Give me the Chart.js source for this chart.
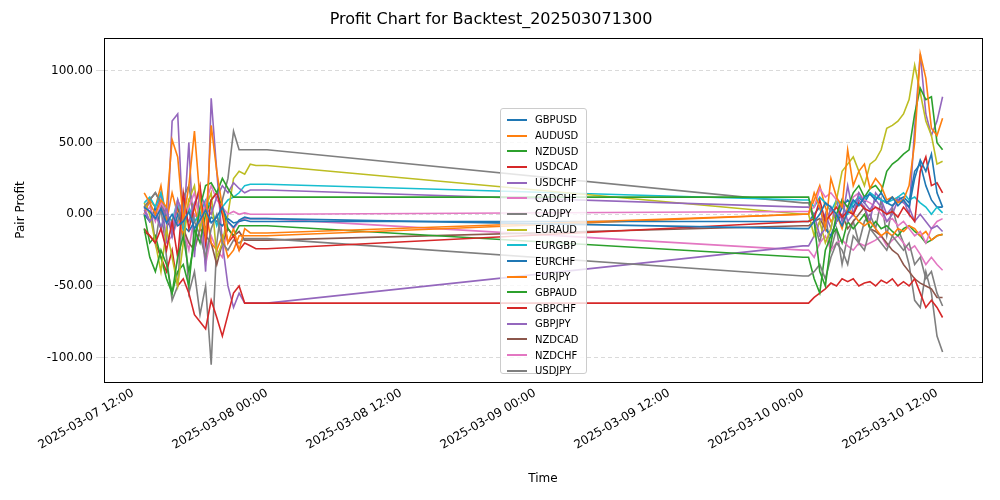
<!DOCTYPE html>
<html><head><meta charset="utf-8">
<script src="https://cdn.jsdelivr.net/npm/chart.js@4"></script>
<style>
body{margin:0;background:#fff;font-family:"DejaVu Sans";}
#wrap{position:relative;width:1000px;height:500px;}
#legend{position:absolute;left:500px;top:108px;width:87px;height:266px;background:rgba(255,255,255,0.8);border:1px solid #ccc;border-radius:3px;font:10px "DejaVu Sans";color:#000;box-sizing:border-box;padding-top:3px;}
.it{display:flex;align-items:center;height:15.7px;}
.sw{width:20px;height:2px;margin-left:6px;margin-right:8px;}
</style></head><body>
<div id="wrap"><canvas id="c" width="1000" height="500"></canvas><div id="legend"></div></div>
<script>
const t1=[13,13.5,14,14.5,15,15.5,16,16.5,17,17.5,18,18.5,19,19.5,20,20.5,21,21.5,22,22.5,23,23.5,24];
const t2=[72,72.5,73,73.5,74,74.5,75,75.5,76,76.5,77,77.5,78,78.5,79,79.5,80,80.5,81,81.5,82,82.5,83,83.5,84,84.5];
const names=["GBPUSD","AUDUSD","NZDUSD","USDCAD","USDCHF","CADCHF","CADJPY","EURAUD","EURGBP","EURCHF","EURJPY","GBPAUD","GBPCHF","GBPJPY","NZDCAD","NZDCHF","USDJPY"];
const colors=["#1f77b4","#ff7f0e","#2ca02c","#d62728","#9467bd","#e377c2","#7f7f7f","#bcbd22","#17becf","#1f77b4","#ff7f0e","#2ca02c","#d62728","#9467bd","#8c564b","#e377c2","#7f7f7f"];
const GBPUSD=[5,2,-3,4,-6,0,-8,-5,2,-10,-4,3,-6,-2,5,-5,-9,-4,-2,-3,-3,-3,-3, -10,-10,-5,0,8,5,0,-8,2,10,6,12,14,10,15,8,12,6,10,5,25,38,30,42,15,5];
const AUDUSD=[15,8,0,10,5,52,40,-5,20,58,10,-15,62,30,5,-20,-10,-25,-10,-13,-13,-13,-13, 0,0,15,5,-10,25,12,5,45,20,30,35,18,25,20,10,12,8,10,20,50,112,95,60,55,67];
const NZDUSD=[-10,-30,-40,-25,-35,-55,-30,-15,-40,-20,5,20,22,15,25,18,12,12,12,12,12,12,12, 12,12,-5,-40,-50,-20,0,10,5,15,20,12,18,20,15,30,35,38,42,45,70,88,80,82,50,45];
const USDCAD=[-10,-15,-20,-10,-25,-5,-30,15,-10,5,20,-20,10,15,0,-20,-15,-25,-20,-22,-24,-24,-24, -5,-5,-3,10,-5,0,5,-2,2,0,8,4,2,5,3,0,2,-2,5,0,-5,30,40,20,22,15];
const USDCHF=[3,-5,0,-10,5,-15,10,0,-5,8,15,5,0,12,20,15,22,18,15,17,17,17,17, 5,5,0,-15,-10,5,-5,10,-5,0,15,8,3,10,5,-5,0,10,8,5,-5,0,-5,-10,-8,-12];
const CADCHF=[0,5,-5,8,2,-10,10,-2,5,15,-5,8,20,10,5,0,2,0,1,0,0,0,0, 2,2,5,18,12,15,10,8,5,12,15,10,8,5,0,-5,-3,-8,-5,-10,-15,-12,-20,-10,-5,-3];
const CADJPY=[5,10,15,8,0,-10,-5,12,20,-5,-15,-30,-10,0,-20,-25,-18,-20,-17,-17,-17,-17,-17, -43,-43,-40,-35,-45,-30,-20,-25,-35,-15,-20,-25,-10,-15,-20,-25,-15,-20,-25,-20,-35,-30,-45,-40,-55,-64];
const EURAUD=[8,0,-20,-40,-10,-30,-50,-20,10,20,-10,5,15,-30,-20,0,25,30,28,35,34,34,34, 0,0,-15,-5,-20,-10,10,30,35,40,30,20,35,38,45,60,62,65,70,80,104,85,65,55,35,37];
const EURGBP=[8,12,5,15,0,-5,10,-10,5,-5,0,10,5,-8,5,10,12,15,20,21,21,21,21, 10,10,5,12,8,2,10,5,0,8,12,10,15,12,10,8,10,12,15,10,12,8,5,0,5,1];
const EURCHF=[0,-5,5,-10,3,-15,0,-8,-12,-5,0,-10,-2,-5,-8,-3,-6,-5,-4,-5,-5,-5,-5, -5,-5,0,5,-10,-15,-5,5,10,5,12,8,15,12,10,8,6,10,12,8,30,35,20,10,5,5];
const EURJPY=[0,10,5,20,-5,15,0,-15,10,5,-10,5,-20,-25,-15,-30,-25,-15,-15,-15,-15,-15,-15, 0,0,10,20,5,-5,0,-10,5,0,-5,-8,-5,-10,-15,-12,-15,-10,-12,-8,-10,-15,-12,-18,-15,-14];
const GBPAUD=[0,-20,-15,-30,-45,-55,-40,-35,-50,-10,-20,0,10,15,5,-10,-15,-8,-8,-8,-8,-8,-8, -30,-30,-45,-55,-25,-15,-10,-20,-5,-10,-5,0,-10,-5,-10,-8,-12,-15,-10,-8,-12,-15,-20,-18,-15,-14];
const GBPCHF=[-12,-15,-20,-30,-40,-25,-50,-45,-55,-70,-75,-80,-60,-72,-85,-70,-55,-50,-62,-62,-62,-62,-62, -62,-62,-58,-55,-52,-48,-50,-45,-47,-45,-50,-48,-47,-50,-46,-48,-45,-50,-47,-50,-45,-55,-65,-60,-65,-72];
const GBPJPY=[5,-5,0,15,-20,65,70,-10,50,-30,20,-40,81,30,-20,-50,-65,-55,-62,-62,-62,-62,-62, -22,-22,-15,-5,0,-10,10,-5,20,0,10,5,-5,15,10,0,5,12,10,0,60,112,70,55,65,82];
const NZDCAD=[5,10,15,8,-5,-10,5,-10,-20,-25,-10,-15,-20,-35,-20,-10,-15,-12,-18,-18,-18,-18,-18, -8,-8,-5,-3,-10,-15,-5,0,-10,-5,0,5,-10,-12,-15,-20,-25,-28,-35,-40,-45,-48,-50,-52,-58,-58];
const NZDCHF=[0,-5,5,-10,-20,-15,-5,-10,-25,0,-5,-35,-15,-25,-30,-5,-10,-5,-3,-3,-3,-3,-3, -25,-25,-30,-20,-15,-25,-20,-18,-22,-25,-20,-22,-20,-18,-15,-22,-18,-15,-20,-25,-22,-28,-35,-30,-35,-39];
const USDJPY=[0,10,-20,5,-30,-60,-50,10,-55,-40,-70,-50,-105,-20,10,25,58,45,45,45,45,45,45, 8,8,-5,-20,0,-25,-10,-35,-15,-5,-20,-5,0,-10,10,-15,5,-10,-20,-35,-60,-65,-40,-55,-85,-96];
const series=[GBPUSD,AUDUSD,NZDUSD,USDCAD,USDCHF,CADCHF,CADJPY,EURAUD,EURGBP,EURCHF,EURJPY,GBPAUD,GBPCHF,GBPJPY,NZDCAD,NZDCHF,USDJPY];
const times=t1.concat(t2);
const datasets=names.map((n,i)=>({label:n,data:series[i].map((v,k)=>({x:times[k],y:v})),borderColor:colors[i],borderWidth:1.6,pointRadius:0,tension:0,fill:false}));
const leg=document.getElementById('legend');
names.forEach((n,i)=>{leg.innerHTML+=`<div class="it"><div class="sw" style="background:${colors[i]}"></div>${n}</div>`;});
const boxPlugin={id:'box',afterDraw(c){const a=c.chartArea,x=c.ctx;x.save();x.strokeStyle='#000';x.lineWidth=1;x.strokeRect(a.left+0.5,a.top+0.5,a.right-a.left,a.bottom-a.top);x.restore();}};
function fmt(h){const d=7+Math.floor(h/24);const hh=Math.round(h%24);return `2025-03-${String(d).padStart(2,'0')} ${String(hh).padStart(2,'0')}:00`;}
Chart.defaults.font.family='"DejaVu Sans"';
Chart.defaults.color='#000';
new Chart(document.getElementById('c'),{type:'line',data:{datasets},plugins:[boxPlugin],
options:{responsive:false,animation:false,parsing:true,
layout:{padding:{left:0,right:18,top:0,bottom:0}},
plugins:{legend:{display:false},tooltip:{enabled:false},
title:{display:true,text:'Profit Chart for Backtest_202503071300',font:{size:16,weight:'normal'},color:'#000',padding:{top:10,bottom:8.8}}},
scales:{
x:{type:'linear',min:9.4,max:88.03,afterFit(s){s.height=118;},
ticks:{stepSize:12,includeBounds:false,minRotation:30,maxRotation:30,padding:0,font:{size:12},callback:v=>fmt(v)},
grid:{display:false,drawTicks:true,tickLength:4},border:{display:false},
title:{display:true,text:'Time',font:{size:12},padding:{top:0,bottom:14}}},
y:{min:-117,max:123,afterFit(s){s.width=104;},
ticks:{stepSize:50,font:{size:12},callback:v=>(v%50===0?v.toFixed(2):'')},
afterBuildTicks(s){s.ticks=[-100,-50,0,50,100].map(v=>({value:v}));},
grid:{color:'#d0d0d0',lineWidth:0.8},border:{display:false,dash:[4,3]},
title:{display:true,text:'Pair Profit',font:{size:12},padding:{top:14,bottom:8}}}
}}});
</script></body></html>
